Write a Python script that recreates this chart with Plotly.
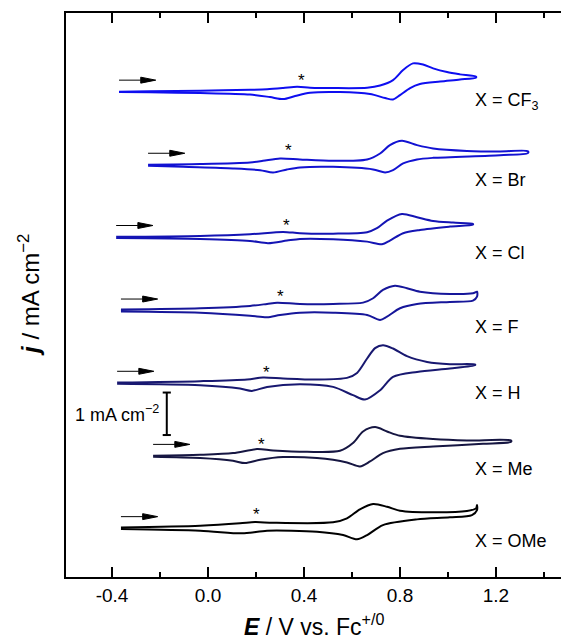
import plotly.graph_objects as go

# ---------------- data (E in V vs Fc+/0, j in mA cm^-2 relative to each trace's start) -------------
labels = ["X = CF<sub>3</sub>", "X = Br", "X = Cl", "X = F", "X = H", "X = Me", "X = OMe"]
colors = ["#0E0EF0", "#1212D2", "#1414B4", "#16169A", "#181870", "#161642", "#000000"]
offsets = [11.41, 9.69, 7.99, 6.26, 4.56, 2.84, 1.14]
label_dy = [-0.23, -0.35, -0.37, -0.37, -0.22, -0.30, -0.30]
star_E = [0.39, 0.335, 0.328, 0.301, 0.245, 0.224, 0.203]
star_dy = [0.40, 0.47, 0.40, 0.45, 0.38, 0.40, 0.44]

E_cf3 = [-0.371, -0.242, -0.033, 0.175, 0.246, 0.313, 0.371, 0.425, 0.521, 0.663, 0.717, 0.771, 0.813,
         0.854, 0.896, 0.938, 0.996, 1.050, 1.117, 1.117, 1.050, 0.967, 0.883, 0.842, 0.800, 0.771, 0.738,
         0.675, 0.550, 0.425, 0.363, 0.313, 0.258, 0.175, -0.033, -0.242, -0.371]
j_cf3 = [0.010, 0.016, 0.033, 0.052, 0.064, 0.094, 0.125, 0.104, 0.094, 0.101, 0.153, 0.282, 0.518,
         0.675, 0.647, 0.558, 0.471, 0.416, 0.360, 0.341, 0.294, 0.247, 0.188, 0.094, -0.071, -0.176, -0.141,
         -0.047, 0.000, -0.016, -0.094, -0.165, -0.118, -0.059, -0.024, -0.007, 0.000]

E_br = [-0.250, -0.033, 0.175, 0.229, 0.300, 0.383, 0.521, 0.663, 0.717, 0.758, 0.808, 0.871, 0.938, 1.079,
        1.217, 1.333, 1.333, 1.217, 0.938, 0.871, 0.813, 0.771, 0.738, 0.688, 0.521, 0.383, 0.329, 0.271,
        0.217, 0.104, -0.104, -0.250]
j_br = [0.012, 0.028, 0.064, 0.101, 0.158, 0.134, 0.101, 0.134, 0.275, 0.471, 0.572, 0.471, 0.393, 0.336,
        0.322, 0.329, 0.282, 0.235, 0.172, 0.134, 0.040, -0.118, -0.172, -0.101, -0.040, -0.054, -0.101, -0.172,
        -0.118, -0.078, -0.040, -0.012]

E_cl = [-0.383, -0.033, 0.175, 0.313, 0.383, 0.521, 0.663, 0.704, 0.746, 0.808, 0.871, 0.938, 1.021, 1.104,
        1.104, 1.008, 0.883, 0.813, 0.758, 0.725, 0.663, 0.521, 0.383, 0.329, 0.250, 0.175, -0.033, -0.383]
j_cl = [0.014, 0.035, 0.075, 0.129, 0.099, 0.089, 0.122, 0.216, 0.395, 0.553, 0.475, 0.388, 0.348, 0.318,
        0.301, 0.254, 0.176, 0.099, -0.075, -0.160, -0.099, -0.042, -0.035, -0.075, -0.136, -0.082, -0.035, -0.012]

E_f = [-0.363, -0.033, 0.175, 0.246, 0.288, 0.383, 0.521, 0.646, 0.688, 0.729, 0.779, 0.829, 0.883, 1.008,
       1.104, 1.121, 1.121, 1.104, 1.008, 0.871, 0.800, 0.746, 0.717, 0.663, 0.521, 0.383, 0.300, 0.246,
       0.175, -0.033, -0.363]
j_f = [0.035, 0.064, 0.118, 0.165, 0.195, 0.165, 0.165, 0.195, 0.299, 0.494, 0.595, 0.534, 0.454, 0.400,
       0.416, 0.454, 0.336, 0.242, 0.212, 0.165, 0.064, -0.134, -0.212, -0.094, -0.040, -0.040, -0.094, -0.148,
       -0.111, -0.040, -0.012]

E_h = [-0.379, -0.033, 0.163, 0.229, 0.313, 0.454, 0.579, 0.621, 0.663, 0.696, 0.729, 0.771, 0.829, 0.913,
       1.008, 1.113, 1.113, 1.008, 0.871, 0.771, 0.717, 0.654, 0.604, 0.521, 0.383, 0.246, 0.183, 0.133,
       -0.033, -0.379]
j_h = [0.014, 0.047, 0.087, 0.134, 0.111, 0.087, 0.125, 0.242, 0.581, 0.824, 0.894, 0.816, 0.635, 0.501,
       0.447, 0.440, 0.424, 0.346, 0.266, 0.148, -0.165, -0.384, -0.282, -0.087, -0.024, -0.087, -0.181, -0.125,
       -0.047, -0.012]

E_me = [-0.229, -0.033, 0.104, 0.204, 0.271, 0.413, 0.550, 0.604, 0.646, 0.696, 0.746, 0.800, 0.938, 1.079,
        1.263, 1.263, 1.146, 0.938, 0.800, 0.729, 0.675, 0.633, 0.579, 0.454, 0.313, 0.217, 0.154, 0.104,
        -0.033, -0.229]
j_me = [0.012, 0.035, 0.075, 0.169, 0.136, 0.106, 0.129, 0.311, 0.584, 0.687, 0.584, 0.482, 0.405, 0.372,
        0.372, 0.341, 0.294, 0.231, 0.176, 0.075, -0.122, -0.240, -0.146, -0.042, -0.019, -0.082, -0.160, -0.106,
        -0.042, -0.012]

E_ome = [-0.363, -0.033, 0.133, 0.196, 0.271, 0.521, 0.579, 0.633, 0.688, 0.746, 0.800, 0.938, 1.079, 1.117,
         1.121, 1.121, 1.100, 1.008, 0.871, 0.729, 0.663, 0.621, 0.563, 0.454, 0.246, 0.175, 0.133, -0.033, -0.363]
j_ome = [0.024, 0.066, 0.122, 0.153, 0.136, 0.146, 0.240, 0.452, 0.576, 0.513, 0.419, 0.381, 0.412, 0.475,
         0.553, 0.435, 0.318, 0.264, 0.216, 0.082, -0.153, -0.254, -0.153, -0.075, -0.052, -0.099, -0.113, -0.052,
         -0.012]

scale_E = -0.172          # position of the 1 mA cm^-2 scale bar
scale_j = [3.34, 4.34]

tick_vals = [-0.4, 0.0, 0.4, 0.8, 1.2]
tick_text = ["-0.4", "0.0", "0.4", "0.8", "1.2"]
minor_vals = [-0.2, 0.2, 0.6, 1.0, 1.4]

E_all = [E_cf3, E_br, E_cl, E_f, E_h, E_me, E_ome]
j_all = [j_cf3, j_br, j_cl, j_f, j_h, j_me, j_ome]

FONT = "Arial, Liberation Sans, sans-serif"
fig = go.Figure()
annotations = []

arrow_len = 0.153
head_len = 0.0625
head_half = 0.07
arrow_dy = 0.28

for i in range(7):
    off = offsets[i]
    fig.add_trace(go.Scatter(
        x=E_all[i], y=[v + off for v in j_all[i]], mode="lines",
        line=dict(color=colors[i], width=2, shape="spline", smoothing=0.8),
        showlegend=False, hoverinfo="skip"))
    # scan-direction arrow
    x0 = E_all[i][0]
    ya = off + arrow_dy
    fig.add_trace(go.Scatter(
        x=[x0, x0 + arrow_len - head_len], y=[ya, ya], mode="lines",
        line=dict(color="black", width=1), showlegend=False, hoverinfo="skip"))
    fig.add_trace(go.Scatter(
        x=[x0 + arrow_len - head_len, x0 + arrow_len, x0 + arrow_len - head_len, x0 + arrow_len - head_len],
        y=[ya + head_half, ya, ya - head_half, ya + head_half], mode="lines", fill="toself",
        fillcolor="black", line=dict(color="black", width=1), showlegend=False, hoverinfo="skip"))
    # star
    annotations.append(dict(x=star_E[i], y=off + star_dy[i], xref="x", yref="y", text="*",
                            showarrow=False, yshift=-5, font=dict(family=FONT, size=17, color="black")))
    # label
    annotations.append(dict(x=1.104, y=off + label_dy[i], xref="x", yref="y", text=labels[i],
                            showarrow=False, xanchor="left", yanchor="middle",
                            font=dict(family=FONT, size=18, color="black")))

# scale bar
cap = 0.017
fig.add_trace(go.Scatter(
    x=[scale_E - cap, scale_E + cap, None, scale_E, scale_E, None, scale_E - cap, scale_E + cap],
    y=[scale_j[0], scale_j[0], None, scale_j[0], scale_j[1], None, scale_j[1], scale_j[1]],
    mode="lines", line=dict(color="black", width=2), showlegend=False, hoverinfo="skip"))
annotations.append(dict(x=scale_E - 0.024, y=(scale_j[0] + scale_j[1]) / 2, xref="x", yref="y",
                        text="1 mA cm<sup>\u22122</sup>", showarrow=False, xanchor="right",
                        font=dict(family=FONT, size=18, color="black")))

# axis titles
annotations.append(dict(x=0.5, y=-0.1144, xref="paper", yref="paper",
                        text="<b><i>E</i></b> / V vs. Fc<sup>+/0</sup>", showarrow=False,
                        xanchor="center", yanchor="bottom", font=dict(family=FONT, size=23, color="black")))
annotations.append(dict(x=-0.075, y=0.5, xref="paper", yref="paper", textangle=-90,
                        text="<b><i>j</i></b> / mA cm<sup>\u22122</sup>", showarrow=False,
                        xanchor="center", yanchor="middle", font=dict(family=FONT, size=24, color="black")))

fig.update_layout(
    width=561, height=643,
    margin=dict(l=66, r=0, t=13, b=66),
    plot_bgcolor="white", paper_bgcolor="white",
    font=dict(family=FONT, size=18, color="black"),
    annotations=annotations,
    xaxis=dict(range=[-0.592, 1.471], showline=True, linewidth=2, linecolor="black", mirror="ticks",
               ticks="inside", ticklen=10, tickwidth=2, tickcolor="black",
               tickmode="array", tickvals=tick_vals, ticktext=tick_text,
               tickfont=dict(family=FONT, size=19, color="black"),
               minor=dict(tickmode="array", tickvals=minor_vals, ticks="inside", ticklen=5, tickwidth=2,
                          tickcolor="black"),
               showgrid=False, zeroline=False),
    yaxis=dict(range=[0, 13.27], showline=True, linewidth=2, linecolor="black", mirror=False,
               showticklabels=False, ticks="", showgrid=False, zeroline=False),
)

fig.write_html("out.html", config={"displayModeBar": False, "staticPlot": True},
               post_script="document.body.style.margin='0px';document.body.style.overflow='hidden';")
